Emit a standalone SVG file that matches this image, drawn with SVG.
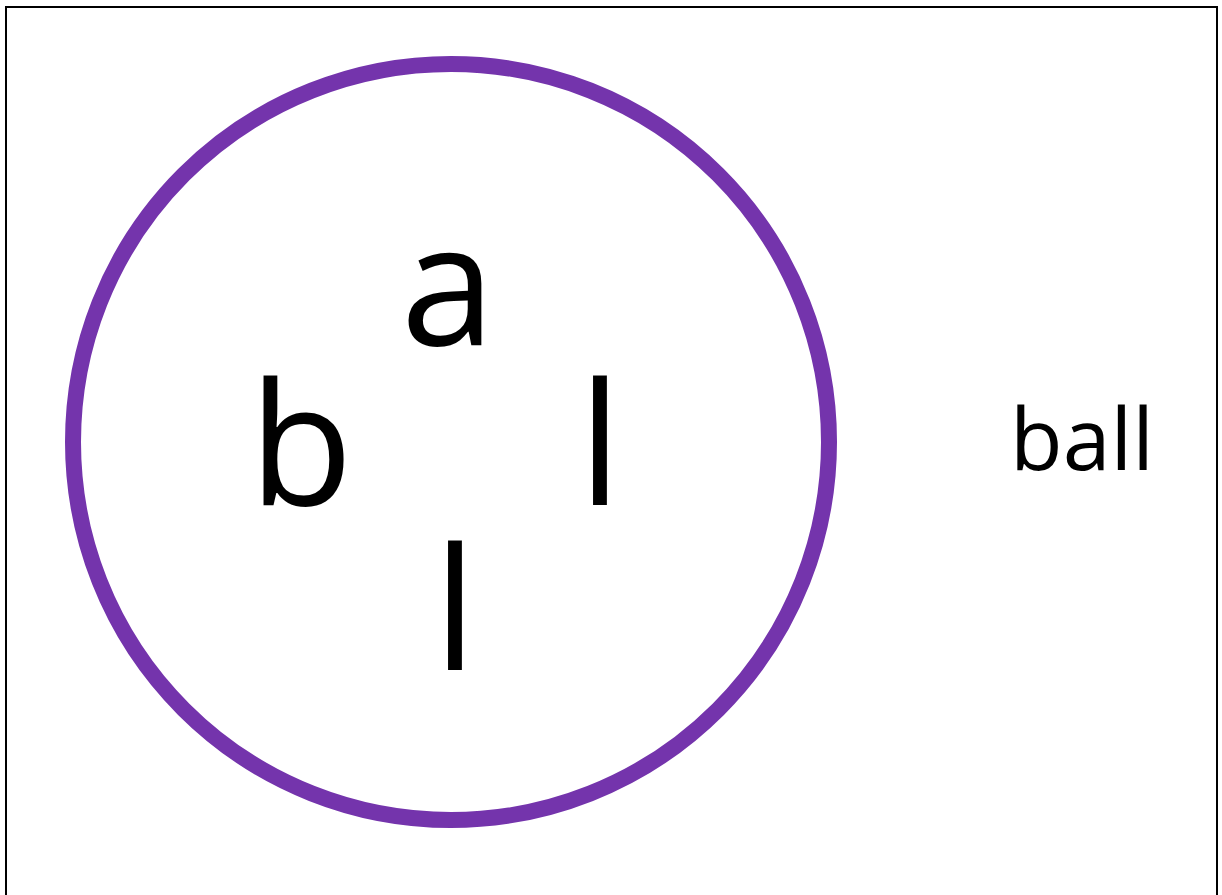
<svg xmlns="http://www.w3.org/2000/svg" width="1222" height="895" viewBox="0 0 1222 895">
<style>
.t{font-family:"Open Sans","Noto Sans",sans-serif;fill:#000;text-anchor:middle}
.big{font-size:170px}
.small{font-size:86px}
</style>
<rect width="1222" height="895" fill="#fff"/>
<path d="M6 895 V7 H1217 V895" fill="none" stroke="#000" stroke-width="2"/>
<g id="circle">
<circle cx="451" cy="442" r="378" fill="none" stroke="#7434AC" stroke-width="16"/>
</g>
<g id="letters">
<text class="t big" x="448" y="345">a</text>
<text class="t big" x="301" y="505">b</text>
<text class="t big" x="600" y="505">l</text>
<text class="t big" x="455" y="670">l</text>
</g>
<g id="word">
<text class="t small" x="1082" y="470">ball</text>
</g>
<g id="connectors"></g>
</svg>
